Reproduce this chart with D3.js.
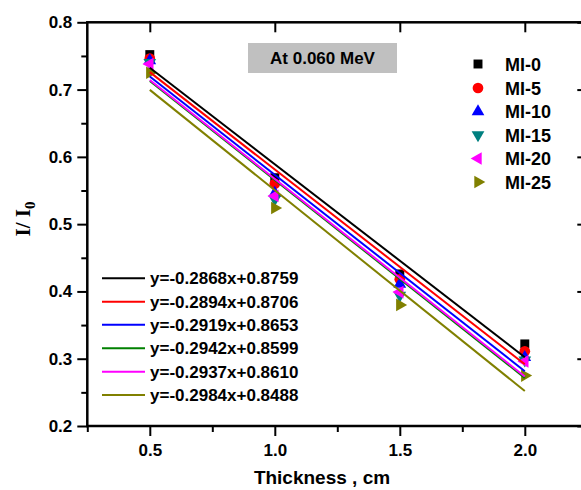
<!DOCTYPE html>
<html><head><meta charset="utf-8">
<script src="https://cdn.jsdelivr.net/npm/d3@7"></script>
<style>body{margin:0;background:#fff}svg{display:block}</style>
</head><body>
<script>
// ---- data ----
const thickness = [0.5, 1.0, 1.5, 2.0];
const seriesNames = ["MI-0", "MI-5", "MI-10", "MI-15", "MI-20", "MI-25"];
const mi0  = [0.752, 0.569, 0.426, 0.322];
const mi5  = [0.746, 0.560, 0.418, 0.311];
const mi10 = [0.743, 0.546, 0.411, 0.302];
const mi15 = [0.740, 0.537, 0.394, 0.298];
const mi20 = [0.738, 0.542, 0.399, 0.296];
const mi25 = [0.725, 0.524, 0.380, 0.275];
const slopes = [-0.2868, -0.2894, -0.2919, -0.2942, -0.2937, -0.2984];
const intercepts = [0.8759, 0.8706, 0.8653, 0.8599, 0.8610, 0.8488];
const fitLabels = ["y=-0.2868x+0.8759", "y=-0.2894x+0.8706", "y=-0.2919x+0.8653",
                   "y=-0.2942x+0.8599", "y=-0.2937x+0.8610", "y=-0.2984x+0.8488"];
const markerColors = ["#000000", "#ff0000", "#0000ff", "#008080", "#ff00ff", "#808000"];
const lineColors = ["#000000", "#ff0000", "#0000ff", "#008000", "#ff00ff", "#808000"];
const markerShapes = ["square", "circle", "up", "down", "left", "right"];
const yMajor = [0.2, 0.3, 0.4, 0.5, 0.6, 0.7, 0.8];
const yMinor = [0.25, 0.35, 0.45, 0.55, 0.65, 0.75];
const xMajor = [0.5, 1.0, 1.5, 2.0];
const xMinor = [0.25, 0.75, 1.25, 1.75, 2.25];
const title = "At 0.060 MeV";
const xTitle = "Thickness , cm";

const allSeries = [mi0, mi5, mi10, mi15, mi20, mi25];

const W = 581, H = 490;
const L = 87.3, R = 587.3, T = 22.3, B = 426;
const svg = d3.select("body").append("svg").attr("width", W).attr("height", H);
const x = d3.scaleLinear().domain([0.25, 2.25]).range([L, R]);
const y = d3.scaleLinear().domain([0.2, 0.8]).range([B, T]);
const FONT = "Arial, 'Liberation Sans', sans-serif";

function symbolPath(shape, size) {
  if (shape === "square") return d3.symbol(d3.symbolSquare, size)();
  if (shape === "circle") return d3.symbol(d3.symbolCircle, size)();
  return d3.symbol(d3.symbolTriangle, size)();
}
function rot(shape) {
  return {up: 0, down: 180, left: -90, right: 90}[shape] || 0;
}

// title box
const tb = svg.append("g");
tb.append("rect").attr("x", 248).attr("y", 43).attr("width", 149).attr("height", 30).attr("fill", "#c0c0c0");
tb.append("text").attr("x", 322.5).attr("y", 64).attr("text-anchor", "middle")
  .attr("font-family", FONT).attr("font-weight", "bold").attr("font-size", 17).text(title);

// markers
allSeries.forEach((vals, i) => {
  svg.append("g").selectAll("path").data(vals).join("path")
    .attr("d", symbolPath(markerShapes[i], markerShapes[i] === "square" ? 80 : (markerShapes[i] === "circle" ? 90 : 70)))
    .attr("transform", (d, j) => `translate(${x(thickness[j])},${y(d)}) rotate(${rot(markerShapes[i])})`)
    .attr("fill", markerColors[i]);
});

// fit lines
slopes.forEach((m, i) => {
  const x0 = thickness[0], x1 = thickness[thickness.length - 1];
  svg.append("line")
    .attr("x1", x(x0)).attr("y1", y(m * x0 + intercepts[i]))
    .attr("x2", x(x1)).attr("y2", y(m * x1 + intercepts[i]))
    .attr("stroke", lineColors[i]).attr("stroke-width", 2);
});

// axes
function styleAxis(g) {
  g.selectAll(".domain").attr("stroke", "#000").attr("stroke-width", 2.5);
  g.selectAll(".tick line").attr("stroke", "#000").attr("stroke-width", 2);
  g.selectAll("text").attr("font-family", FONT).attr("font-weight", "bold").attr("font-size", 17).attr("fill", "#000");
}
const fmt = d3.format(".1f");
// left
const gl = svg.append("g").attr("transform", `translate(${L},0)`)
  .call(d3.axisLeft(y).tickValues(yMajor).tickFormat(fmt).tickSize(10).tickPadding(5));
styleAxis(gl);
const glm = svg.append("g").attr("transform", `translate(${L},0)`)
  .call(d3.axisLeft(y).tickValues(yMinor).tickFormat("").tickSize(6));
styleAxis(glm);
// bottom
const gb = svg.append("g").attr("transform", `translate(0,${B})`)
  .call(d3.axisBottom(x).tickValues(xMajor).tickFormat(fmt).tickSize(10).tickPadding(8));
styleAxis(gb);
const gbm = svg.append("g").attr("transform", `translate(0,${B})`)
  .call(d3.axisBottom(x).tickValues(xMinor).tickFormat("").tickSize(6));
styleAxis(gbm);
// top (inward)
const gt = svg.append("g").attr("transform", `translate(0,${T})`)
  .call(d3.axisTop(x).tickValues(xMajor).tickFormat("").tickSize(-10));
styleAxis(gt);
// right (inward)
const gr = svg.append("g").attr("transform", `translate(${R},0)`)
  .call(d3.axisRight(y).tickValues(yMajor).tickFormat("").tickSize(-10));
styleAxis(gr);
[gl, glm, gb, gbm, gt, gr].forEach(g => g.selectAll(".domain").attr("d", null));
// frame lines
svg.append("rect").attr("x", L).attr("y", T).attr("width", R - L).attr("height", B - T)
  .attr("fill", "none").attr("stroke", "#000").attr("stroke-width", 2.5);

// axis titles
svg.append("text").attr("x", 322).attr("y", 484).attr("text-anchor", "middle")
  .attr("font-family", FONT).attr("font-weight", "bold").attr("font-size", 19).text(xTitle);
const yl = svg.append("text").attr("transform", "translate(30,219) rotate(-90)").attr("text-anchor", "middle")
  .attr("font-family", "'Liberation Serif', 'Times New Roman', serif").attr("font-weight", "bold").attr("font-size", 21);
yl.append("tspan").text("I/ I");
yl.append("tspan").attr("font-size", 15).attr("dy", 5).text("0");

// marker legend
const rowsY = [64, 88, 111.5, 135, 158.5, 182];
seriesNames.forEach((name, i) => {
  const g = svg.append("g").attr("transform", `translate(478,${rowsY[i]})`);
  g.append("path")
    .attr("d", symbolPath(markerShapes[i], markerShapes[i] === "square" ? 80 : (markerShapes[i] === "circle" ? 90 : 70)))
    .attr("transform", `rotate(${rot(markerShapes[i])})`)
    .attr("fill", markerColors[i]);
  g.append("text").attr("x", 27).attr("y", 6.5)
    .attr("font-family", FONT).attr("font-weight", "bold").attr("font-size", 18).text(name);
});

// fit legend
const fitY = [278.3, 301.7, 324.8, 348.3, 371.7, 395];
fitLabels.forEach((lab, i) => {
  const g = svg.append("g").attr("transform", `translate(0,${fitY[i]})`);
  g.append("line").attr("x1", 102).attr("x2", 145).attr("y1", 0).attr("y2", 0)
    .attr("stroke", lineColors[i]).attr("stroke-width", 2);
  g.append("text").attr("x", 150).attr("y", 6)
    .attr("font-family", FONT).attr("font-weight", "bold").attr("font-size", 17).text(lab);
});
</script>
</body></html>
